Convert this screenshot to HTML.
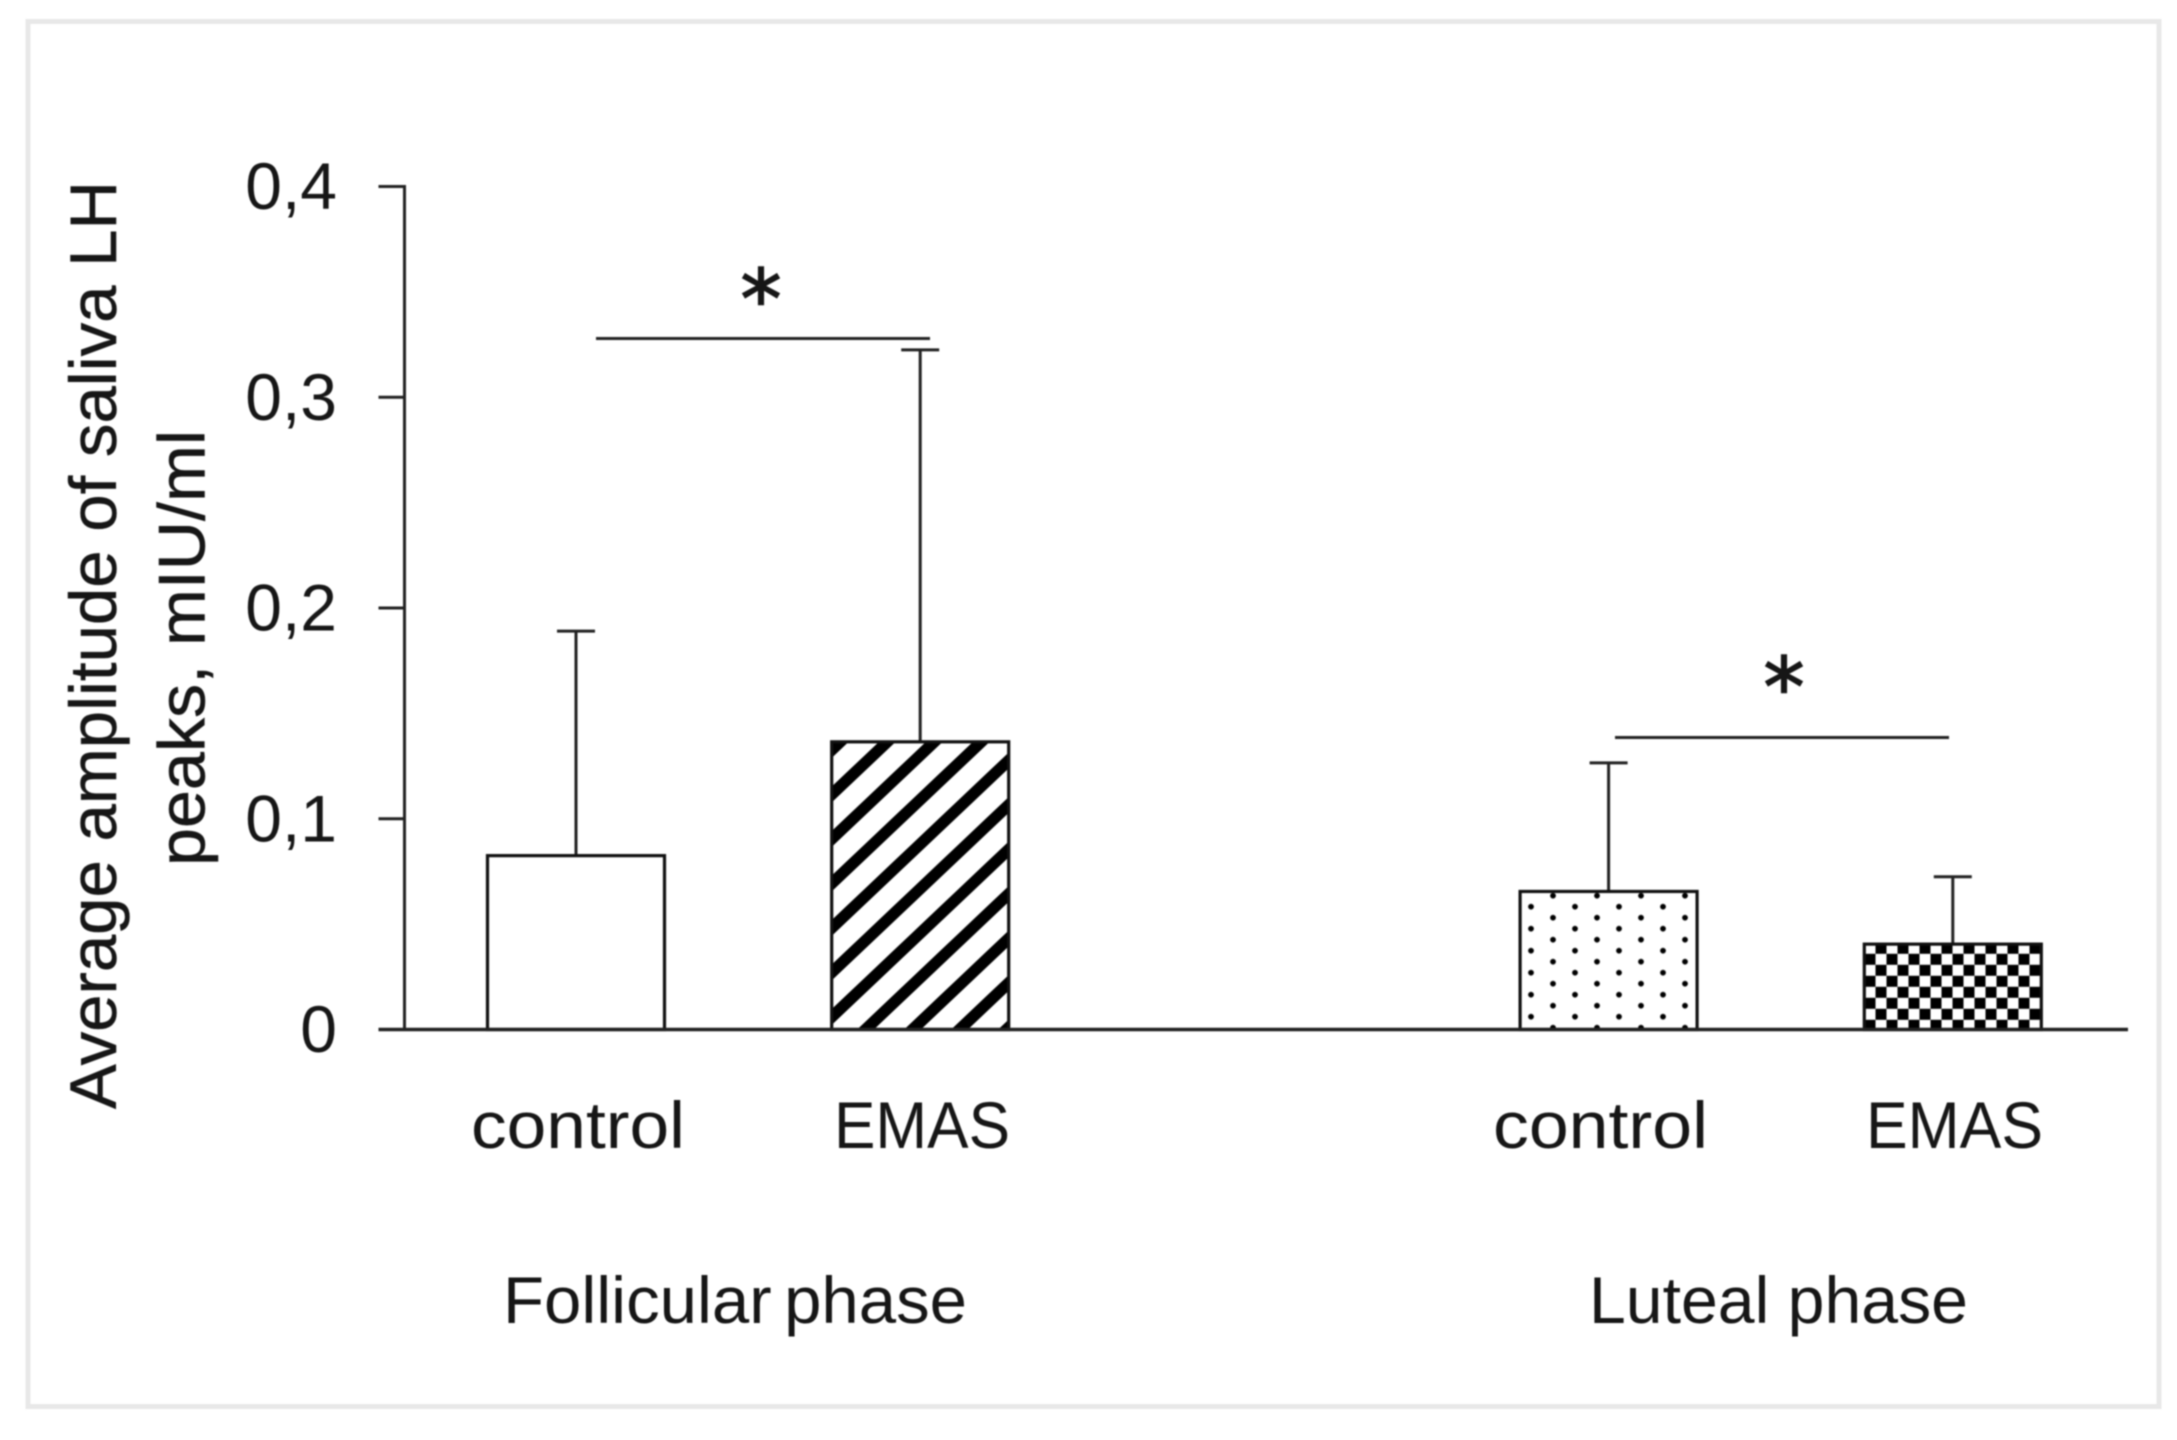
<!DOCTYPE html>
<html lang="en">
<head>
<meta charset="utf-8">
<title>Average amplitude of saliva LH peaks</title>
<style>
html,body{margin:0;padding:0;background:#fff;}
svg{display:block;width:2177px;height:1440px;}
text{font-family:"Liberation Sans",sans-serif;fill:#161616;}
.heavy{stroke:#161616;stroke-width:0.5px;}
#plot-root{filter:blur(0.7px);}
</style>
</head>
<body>
<svg id="chart" xmlns="http://www.w3.org/2000/svg" width="2177" height="1440" viewBox="0 0 2177 1440">
  <defs>
    <pattern id="stripes" patternUnits="userSpaceOnUse" x="0" y="0" width="47" height="44.5">
      <rect width="47" height="44.5" fill="#fff"/>
      <path d="M39.95,-13.35 L-35.25,57.85 M86.95,-13.35 L11.75,57.85" stroke="#000" stroke-width="11.5" fill="none"/>
    </pattern>
    <pattern id="dots" patternUnits="userSpaceOnUse" x="1520" y="901.2" width="44" height="22">
      <rect width="44" height="22" fill="#fff"/>
      <circle cx="11" cy="5.5" r="2.9" fill="#000"/>
      <circle cx="33" cy="16.5" r="2.9" fill="#000"/>
    </pattern>
    <pattern id="checks" patternUnits="userSpaceOnUse" x="1875.5" y="942.8" width="22" height="22">
      <rect width="22" height="22" fill="#fff"/>
      <rect width="11" height="11" fill="#000"/>
      <rect x="11" y="11" width="11" height="11" fill="#000"/>
    </pattern>
  </defs>
  <rect width="2177" height="1440" fill="#fff"/>
  <g id="plot-root">
    <rect x="28" y="21.5" width="2131" height="1385" fill="#fff" stroke="#e8e8e8" stroke-width="5"/>

    <g id="marks"></g>
    <g id="axes"></g>

    <text class="heavy" transform="translate(116,1109) rotate(-90)" font-size="66" textLength="928" lengthAdjust="spacingAndGlyphs">Average amplitude of saliva LH</text>
    <text class="heavy" transform="translate(204.5,866) rotate(-90)" font-size="66" textLength="436" lengthAdjust="spacingAndGlyphs">peaks, mIU/ml</text>

    <text x="471" y="1148" font-size="66" textLength="214" lengthAdjust="spacingAndGlyphs">control</text>
    <text x="834" y="1148" font-size="66" textLength="176" lengthAdjust="spacingAndGlyphs">EMAS</text>
    <text x="1493" y="1148" font-size="66" textLength="215" lengthAdjust="spacingAndGlyphs">control</text>
    <text x="1866" y="1148" font-size="66" textLength="177" lengthAdjust="spacingAndGlyphs">EMAS</text>

    <text x="503" y="1323" font-size="66" word-spacing="-6" textLength="464" lengthAdjust="spacingAndGlyphs">Follicular phase</text>
    <text x="1589" y="1323" font-size="66" textLength="379" lengthAdjust="spacingAndGlyphs">Luteal phase</text>

    <line x1="596" y1="338.5" x2="930" y2="338.5" stroke="#222" stroke-width="3"/>
    <line x1="1615" y1="737.5" x2="1949" y2="737.5" stroke="#222" stroke-width="3"/>
    <text x="761" y="328" text-anchor="middle" font-size="82" style="font-family:'DejaVu Sans',sans-serif;stroke:#161616;stroke-width:1.6px">*</text>
    <text x="1784" y="716" text-anchor="middle" font-size="82" style="font-family:'DejaVu Sans',sans-serif;stroke:#161616;stroke-width:1.6px">*</text>
  </g>
</svg>
<script>
const categories = ["control", "EMAS", "", "control", "EMAS"];
const seriesMeans = [0.0825, 0.1365, null, 0.0655, 0.0405];
const seriesErrorTops = [0.189, 0.3225, null, 0.1265, 0.0725];
const seriesFills = ["#fff", "url(#stripes)", null, "url(#dots)", "url(#checks)"];
const yTickValues = [0, 0.1, 0.2, 0.3, 0.4];
const yTickLabels = ["0", "0,1", "0,2", "0,3", "0,4"];

const SVG_NS = "http://www.w3.org/2000/svg";
const INK = "#222";
const y0px = 1029.5, yPerUnit = 2107.5;
const firstCenter = 576, band = 344.2, barWidth = 177, capHalf = 19;
const axisX = 404.5, axisRight = 2128, tickLeft = 378.5;

function yScale(v) { return y0px - v * yPerUnit; }
function xScale(i) { return firstCenter + band * i; }
function make(tag, attrs) {
  const el = document.createElementNS(SVG_NS, tag);
  Object.keys(attrs).forEach(function (k) { el.setAttribute(k, attrs[k]); });
  return el;
}

const marks = document.getElementById("marks");
const axes = document.getElementById("axes");

categories.forEach(function (cat, i) {
  if (seriesMeans[i] === null) return;
  const cx = xScale(i);
  const top = yScale(seriesMeans[i]);
  const errTop = yScale(seriesErrorTops[i]);
  const group = i < 2 ? "follicular" : "luteal";

  const stem = make("line", { x1: cx, x2: cx, y1: errTop, y2: top, stroke: INK, "stroke-width": 3 });
  
  
  marks.appendChild(stem);

  const cap = make("line", { x1: cx - capHalf, x2: cx + capHalf, y1: errTop, y2: errTop, stroke: INK, "stroke-width": 3 });
  
  
  marks.appendChild(cap);

  const bar = make("rect", { x: cx - barWidth / 2, y: top, width: barWidth, height: y0px - top, fill: seriesFills[i], stroke: "#111", "stroke-width": 3.2 });
  
  
  marks.appendChild(bar);
});

const yAxisLine = make("line", { x1: axisX, x2: axisX, y1: yScale(0.4) - 1.5, y2: y0px, stroke: INK, "stroke-width": 3 });


axes.appendChild(yAxisLine);

const xAxisLine = make("line", { x1: tickLeft, x2: axisRight, y1: y0px, y2: y0px, stroke: INK, "stroke-width": 3.4 });


axes.appendChild(xAxisLine);

yTickValues.forEach(function (v, i) {
  const y = yScale(v);
  const tick = make("line", { x1: tickLeft, x2: axisX, y1: y, y2: y, stroke: INK, "stroke-width": 3 });
  
  
  axes.appendChild(tick);

  const label = make("text", { x: 337, y: y + 22.5, "text-anchor": "end", "font-size": 66 });
  
  
  label.textContent = yTickLabels[i];
  axes.appendChild(label);
});
</script>
</body>
</html>
